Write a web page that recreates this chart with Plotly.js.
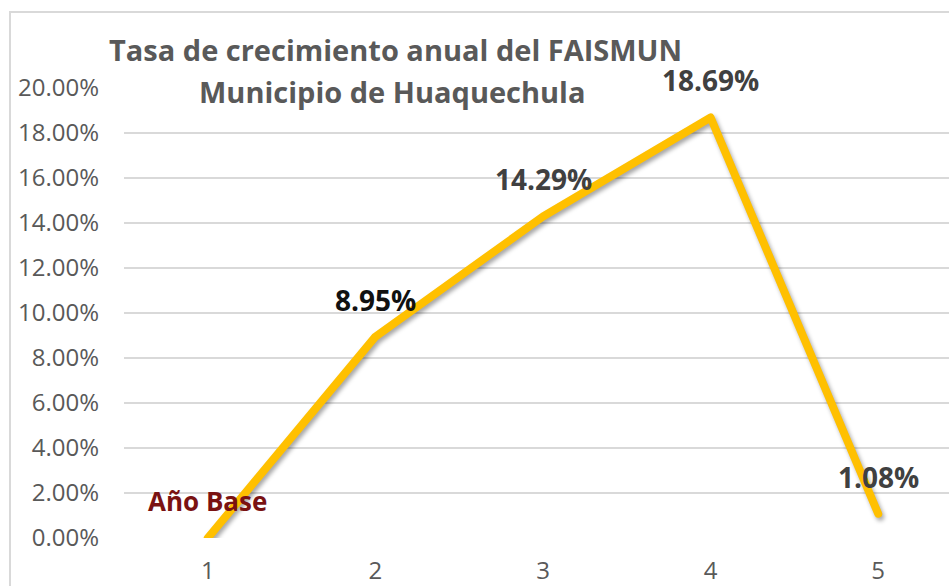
<!DOCTYPE html>
<html>
<head>
<meta charset="utf-8">
<script src="https://cdn.plot.ly/plotly-3.0.1.min.js"></script>
<style>
  html, body { margin: 0; padding: 0; overflow: hidden; background: #fff; }
  #wrap { position: relative; width: 949px; height: 586px; }
  #chart { width: 949px; height: 586px; }
  #frame { position: absolute; left: 9px; top: 11px; width: 1200px; height: 1200px;
           border-left: 2px solid #D9D9D9; border-top: 2px solid #D9D9D9; pointer-events: none; }
  .scatterlayer .js-line { filter: drop-shadow(2px 3px 2px rgba(0,0,0,0.35)); stroke-linejoin: round; stroke-linecap: round; }
</style>
</head>
<body>
<div id="wrap">
  <div id="chart"></div>
  <div id="frame"></div>
</div>
<script>
const years = [1, 2, 3, 4, 5];
const rates = [0, 8.95, 14.29, 18.69, 1.08];
const pointLabels = ["Año Base", "8.95%", "14.29%", "18.69%", "1.08%"];
const labelColors = ["#7A1212", "#111111", "#404040", "#404040", "#404040"];
const labelSizes = [26, 28, 28, 28, 28];
const yTicks = [0, 2, 4, 6, 8, 10, 12, 14, 16, 18, 20];
const yTickText = yTicks.map(v => v.toFixed(2) + "%");
const titleLines = ["Tasa de crecimiento anual del FAISMUN", "Municipio de Huaquechula"];

const FONT = "Open Sans, Noto Sans, sans-serif";

const trace = {
  x: years, y: rates, type: "scatter", mode: "lines",
  line: { color: "#FFC000", width: 8, shape: "linear" },
  hoverinfo: "skip"
};

const annotations = years.map((x, i) => ({
  x: x, y: rates[i], xref: "x", yref: "y",
  xanchor: "center", yanchor: "middle",
  text: "<b>" + pointLabels[i] + "</b>",
  showarrow: false, yshift: 37,
  font: { family: FONT, size: labelSizes[i], color: labelColors[i] }
}));

annotations.push({
  xref: "paper", yref: "paper", x: (395 - 124) / 825, y: 1 + (88 - 50) / 450,
  xanchor: "center", yanchor: "middle",
  text: "<b>" + titleLines[0] + "</b>", showarrow: false,
  font: { family: FONT, size: 29, color: "#595959" }
});
annotations.push({
  xref: "paper", yref: "paper", x: (392 - 124) / 825, y: 1 + (88 - 91) / 450,
  xanchor: "center", yanchor: "middle",
  text: "<b>" + titleLines[1] + "</b>", showarrow: false,
  font: { family: FONT, size: 29, color: "#595959" }
});

const layout = {
  width: 949, height: 586,
  margin: { l: 124, r: 0, t: 88, b: 48, pad: 0 },
  paper_bgcolor: "#ffffff", plot_bgcolor: "#ffffff",
  showlegend: false,
  xaxis: {
    type: "linear", range: [0.5, 5.5 - 13 / 167.5],
    tickvals: years, ticktext: years.map(String),
    showgrid: false, zeroline: false, showline: false, ticks: "",
    ticklabelstandoff: 16,
    tickfont: { family: FONT, size: 24, color: "#595959" }
  },
  yaxis: {
    range: [0, 20], tickvals: yTicks, ticktext: yTickText,
    showgrid: true, gridcolor: "#D9D9D9", gridwidth: 2,
    zeroline: false, showline: false, ticks: "",
    ticklabelstandoff: 24,
    tickfont: { family: FONT, size: 24, color: "#595959" }
  },
  annotations: annotations
};

Plotly.newPlot("chart", [trace], layout, { displayModeBar: false, staticPlot: true });
</script>
</body>
</html>
